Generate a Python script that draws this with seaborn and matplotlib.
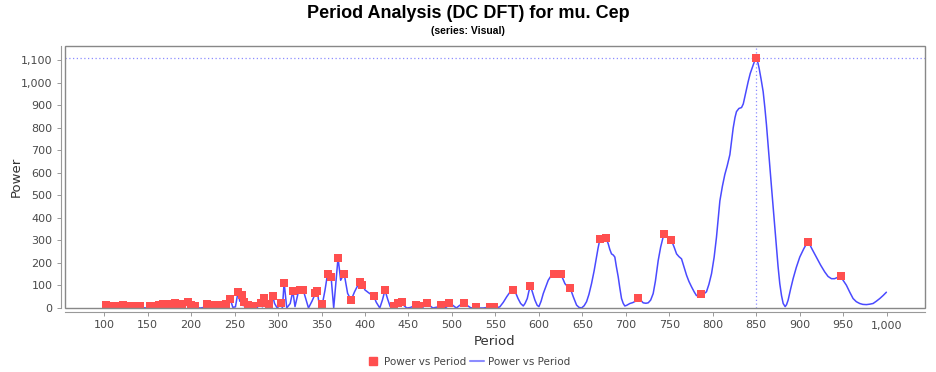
import matplotlib
matplotlib.use("Agg")
import matplotlib.pyplot as plt
import matplotlib.ticker as mticker
from matplotlib.lines import Line2D
from matplotlib.patches import Rectangle
import seaborn as sns
import pandas as pd

# ---- data -----------------------------------------------------------
title = "Period Analysis (DC DFT) for mu. Cep"
subtitle = "(series: Visual)"
x_label = "Period"
y_label = "Power"
series_name = "Power vs Period"

marker_period = [102, 110, 116, 122, 127, 132, 137, 141, 153, 158, 163, 168, 173, 177,
                 182, 186, 190, 196, 200, 205, 218, 222, 227, 231, 235, 240, 245, 254,
                 258, 261, 266, 271, 280, 284, 290, 294, 303, 307, 317, 325, 329, 343,
                 345, 351, 357, 361, 369, 376, 384, 394, 397, 410, 423, 433, 438, 442,
                 459, 462, 471, 487, 497, 514, 528, 544, 548, 570, 590, 617, 625, 636,
                 670, 677, 714, 744, 752, 786, 850, 909, 947]
marker_power = [13, 10, 8, 12, 9, 10, 8, 10, 10, 9, 12, 16, 14, 18,
                20, 14, 16, 26, 12, 8, 18, 12, 15, 12, 15, 18, 40, 72,
                58, 25, 15, 8, 22, 43, 18, 52, 23, 113, 75, 79, 79, 65,
                76, 18, 153, 138, 223, 153, 35, 116, 104, 53, 79, 9, 20, 28,
                13, 10, 23, 13, 23, 23, 6, 6, 6, 82, 97, 153, 150, 88,
                305, 312, 46, 328, 300, 60, 1108, 291, 141]

line_period = [100, 102, 106, 110, 113, 116, 119, 122, 125, 127, 130, 132, 135, 137, 139,
               141, 145, 147, 150, 153, 156, 158, 160, 163, 166, 168, 171, 173, 175, 177,
               180, 182, 184, 186, 188, 190, 193, 196, 198, 200, 202, 205, 208, 211, 214,
               218, 220, 222, 224, 227, 229, 231, 233, 235, 238, 240, 242, 245, 248, 251,
               254, 256, 258, 260, 261, 263, 266, 268, 271, 273, 276, 280, 282, 284, 286,
               288, 290, 292, 294, 296, 299, 301, 303, 305, 307, 310, 314, 317, 319.5, 323,
               325, 327, 329, 332, 335, 339, 343, 345, 348, 351, 354, 357, 359, 361, 364,
               366, 369, 372, 376, 380, 384, 388, 391, 394, 397, 400, 404, 407, 410, 413,
               417, 420, 423, 426, 429, 433, 435, 438, 440, 442, 445, 448, 452, 456, 459,
               461, 462, 466, 469, 471, 474, 478, 483, 487, 490, 492, 494, 497, 500, 505,
               509, 514, 518, 522, 525, 528, 532, 536, 540, 544, 546, 548, 552, 555, 559,
               563, 567, 570, 573, 576, 579, 582, 584, 586.6, 588.5, 590.4, 593, 595.4, 598,
               600, 602.5, 605, 608, 610.7, 613.5, 617, 620.3, 622.5, 625, 627.5, 629.9, 633,
               636, 639.5, 643.3, 646, 649, 652, 654.8, 657.5, 660.5, 663.5, 666.3, 668, 670,
               673, 677, 679.7, 681.5, 683.5, 685.5, 687.3, 689, 691.2, 693, 695, 697, 698.8,
               701, 704.6, 708, 711, 714, 717, 719.9, 723, 725.7, 728.5, 731.4, 734, 737.2,
               740, 743.7, 747.5, 750, 752.5, 755.5, 758.3, 761, 764, 767, 769.8, 772.5,
               775.5, 778.5, 781.2, 783.5, 786.2, 789.5, 792.7, 795.5, 798.5, 801.5, 804.2,
               806, 808.1, 811, 813.8, 816.5, 819.6, 821.5, 823.4, 825.5, 827.2, 830, 833,
               835, 836.8, 838.7, 840.6, 843, 845.6, 848, 850, 852, 853.3, 855.5, 857.9,
               859.8, 861.7, 863.6, 865.5, 867.5, 869.4, 871.3, 873.2, 875, 877, 879, 880.9,
               883.2, 884.8, 886.6, 889.5, 892.4, 896, 900, 904.5, 908.8, 911, 914, 919,
               924, 928.7, 932.5, 936.4, 940, 943.5, 946.7, 950, 953.6, 957.5, 961.3, 965,
               968.9, 972.5, 976.6, 980.5, 984.3, 988, 992, 996, 999.6]
line_power = [4, 13, 3, 10, 4, 8, 3, 12, 4, 9, 3, 10, 3, 8, 3,
              10, 2, 0, 2, 10, 3, 9, 4, 12, 5, 16, 6, 14, 6, 18,
              8, 20, 7, 14, 6, 16, 5, 26, 6, 12, 3, 8, 1, 0, 2,
              18, 5, 12, 4, 15, 4, 12, 4, 15, 4, 18, 6, 40, 3, 5,
              72, 30, 58, 10, 25, 2, 15, 2, 8, 0, 2, 22, 5, 43, 5,
              0, 18, 5, 52, 20, 0, 8, 23, 0, 113, 0, 20, 75, 6, 65,
              79, 70, 79, 40, 0, 30, 65, 76, 0, 18, 79, 153, 138, 138, 0,
              90, 223, 123, 153, 65, 35, 72, 95, 116, 104, 80, 68, 60, 53, 25,
              0, 35, 79, 40, 6, 9, 12, 20, 24, 28, 10, 0, 2, 8, 13,
              11, 10, 0, 15, 23, 12, 0, 4, 13, 5, 0, 5, 23, 15, 0,
              12, 23, 10, 0, 3, 6, 0, 0, 2, 6, 6, 6, 2, 5, 25,
              50, 72, 82, 70, 42, 20, 9, 20, 42, 75, 97, 65, 35, 12,
              6, 30, 64, 95, 123, 140, 153, 138, 145, 150, 130, 108, 95,
              88, 50, 13, 3, 0, 10, 28, 60, 108, 165, 226, 265, 303,
              306, 312, 285, 260, 240, 235, 226, 185, 138, 90, 42, 20, 9,
              12, 20, 24, 30, 46, 35, 23, 21, 23, 35, 64, 120, 211,
              270, 328, 314, 305, 299, 270, 240, 228, 218, 180, 145, 118,
              94, 72, 55, 55, 60, 62, 72, 105, 152, 225, 314,
              390, 475, 540, 592, 630, 680, 740, 798, 845, 871, 885, 889,
              905, 937, 970, 1003, 1040, 1069, 1095, 1108, 1085, 1062, 1015, 959,
              890, 812, 720, 622, 535, 446, 358, 270, 185, 108, 55, 20,
              6, 15, 35, 85, 131, 180, 226, 262, 292, 285, 262, 226,
              190, 160, 140, 130, 130, 136, 141, 122, 101, 70, 42, 28,
              20, 16, 15, 17, 20, 30, 42, 56, 70]

x_ticks = list(range(100, 1001, 50))
y_ticks = list(range(0, 1101, 100))
peak_period = 850
peak_power = 1108

# ---- plot -----------------------------------------------------------
sns.set_theme(style="white")
plt.rcParams["font.family"] = ["DejaVu Sans"]

fig = plt.figure(figsize=(9.36, 3.72), dpi=100)
ax = fig.add_axes([65 / 936, 1 - 308 / 372, 860 / 936, 262 / 372])

line_df = pd.DataFrame({"Period": line_period, "Power": line_power})
mark_df = pd.DataFrame({"Period": marker_period, "Power": marker_power})

ax.axvline(peak_period, color="#8c8cff", lw=0.9, ls=(0, (1, 2)), zorder=1)
ax.axhline(peak_power, color="#8c8cff", lw=0.9, ls=(0, (1, 2)), zorder=1)

sns.lineplot(data=line_df, x="Period", y="Power", ax=ax, color="#4a4aff",
             lw=1.1, estimator=None, sort=True, zorder=2)
sns.scatterplot(data=mark_df, x="Period", y="Power", ax=ax, marker="s",
                color="#ff4f4f", s=27, linewidth=0, zorder=3)

ax.set_xlim(55, 1044)
ax.set_ylim(0, 1162)
ax.set_xticks(x_ticks)
ax.set_yticks(y_ticks)
fmt = mticker.FuncFormatter(lambda v, p: f"{v:,.0f}")
ax.xaxis.set_major_formatter(fmt)
ax.yaxis.set_major_formatter(fmt)

for s in ["top", "right"]:
    ax.spines[s].set_visible(False)
for s in ["left", "bottom"]:
    ax.spines[s].set_position(("outward", 3))
    ax.spines[s].set_color("#999999")
    ax.spines[s].set_linewidth(0.8)
ax.add_patch(Rectangle((0, 0), 1, 1, transform=ax.transAxes, fill=False,
                       edgecolor="#888888", lw=1.0, clip_on=False, zorder=5))

ax.tick_params(axis="both", which="major", direction="out", length=3, width=0.7,
               color="#999999", labelsize=8, labelcolor="#4a4a4a", pad=3,
               bottom=True, left=True)
ax.set_xlabel(x_label, fontsize=9.5, color="#333333", labelpad=3)
ax.set_ylabel(y_label, fontsize=9.5, color="#333333")
ax.yaxis.set_label_coords((23 - 65) / 860, 0.5)

title_fonts = ["Liberation Sans", "DejaVu Sans"]
fig.text(0.5, 1 - 13 / 372, title, ha="center", va="center", fontsize=13,
         fontweight="bold", family=title_fonts, color="black")
fig.text(0.5, 1 - 31 / 372, subtitle, ha="center", va="center", fontsize=7.5,
         fontweight="bold", family=title_fonts, color="black")

handles = [
    Line2D([], [], marker="s", color="#ff4f4f", lw=0, markersize=6),
    Line2D([], [], color="#8c8cff", lw=1.5),
]
fig.legend(handles, [series_name, series_name], loc="center",
           bbox_to_anchor=(0.5, 1 - 362 / 372), ncol=2, frameon=False,
           fontsize=7.5, labelcolor="#444444", handlelength=1.4,
           handletextpad=0.4, columnspacing=0.3)

fig.savefig("out.png", dpi=100)
